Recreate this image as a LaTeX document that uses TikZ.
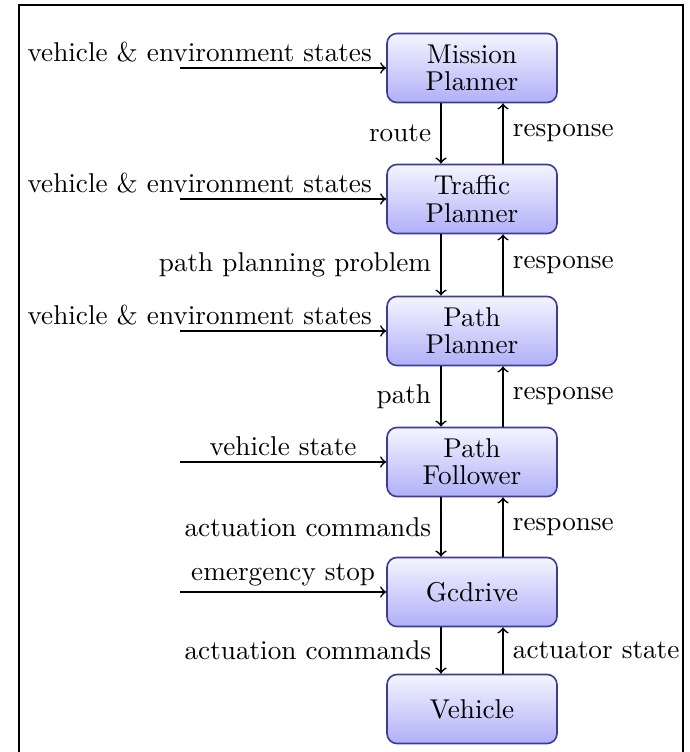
\documentclass[tikz,border=0pt]{standalone}
\usepackage{tikz}
\usetikzlibrary{positioning,shapes,arrows,calc}
\definecolor{boxline}{HTML}{3C3C96}
\definecolor{boxtop}{HTML}{F4F4FF}
\definecolor{boxbottom}{HTML}{B0B0F8}

\begin{document}
\begin{tikzpicture}[
      x=0.3676pt, y=-0.3676pt,
      block/.style={
        rectangle,
        draw=boxline,
        semithick,
        top color=boxtop,
        bottom color=boxbottom,
        rounded corners=3.7pt,
        minimum width=62.5pt,
        minimum height=25.4pt,
        align=center,
        font=\fontsize{10}{10}\selectfont,
      },
      link/.style={->, semithick},
      intext/.style={inner sep=2pt}
      ]
      \useasboundingbox (0,0) rectangle (689,752);
      \draw[line width=1pt] (19,752) -- (19,5) -- (683,5) -- (683,752);
      % planner chain
      \node[block] (mp) at (472,68) {Mission\\Planner};
      \node[block] (tp) at (472,199) {Traffic\\Planner};
      \node[block] (pp) at (472,331) {Path\\Planner};
      \node[block] (pf) at (472,462) {Path\\Follower};
      \node[block] (gc) at (472,592) {Gcdrive};
      \node[block] (ve) at (472,709) {Vehicle};
      % inputs from the left
      \coordinate (in1) at (180,68);
      \coordinate (in2) at (180,199);
      \coordinate (in3) at (180,331);
      \coordinate (in4) at (180,462);
      \coordinate (in5) at (180,592);
      \draw[link] (in1) -- node[intext, pos=1, above left, xshift=-3pt] {vehicle \& environment states} (mp.west);
      \draw[link] (in2) -- node[intext, pos=1, above left, xshift=-3pt] {vehicle \& environment states} (tp.west);
      \draw[link] (in3) -- node[intext, pos=1, above left, xshift=-3pt] {vehicle \& environment states} (pp.west);
      \draw[link] (in4) -- node[intext, above] {vehicle state} (pf.west);
      \draw[link] (in5) -- node[intext, above] {emergency stop} (gc.west);
      % commands going down
      \draw[link] ([xshift=-11.4pt]mp.south) -- node[left] {route} ([xshift=-11.4pt]tp.north);
      \draw[link] ([xshift=-11.4pt]tp.south) -- node[left] {path planning problem} ([xshift=-11.4pt]pp.north);
      \draw[link] ([xshift=-11.4pt]pp.south) -- node[left] {path} ([xshift=-11.4pt]pf.north);
      \draw[link] ([xshift=-11.4pt]pf.south) -- node[left] {actuation commands} ([xshift=-11.4pt]gc.north);
      \draw[link] ([xshift=-11.4pt]gc.south) -- node[left] {actuation commands} ([xshift=-11.4pt]ve.north);
      % responses going up
      \foreach \a/\b in {tp/mp, pp/tp, pf/pp, gc/pf} {
        \draw[link] ([xshift=11.4pt]\a.north) -- node[right] {response} ([xshift=11.4pt]\b.south);
      }
      \draw[link] ([xshift=11.4pt]ve.north) -- node[right] {actuator state} ([xshift=11.4pt]gc.south);
    \end{tikzpicture}
\end{document}
